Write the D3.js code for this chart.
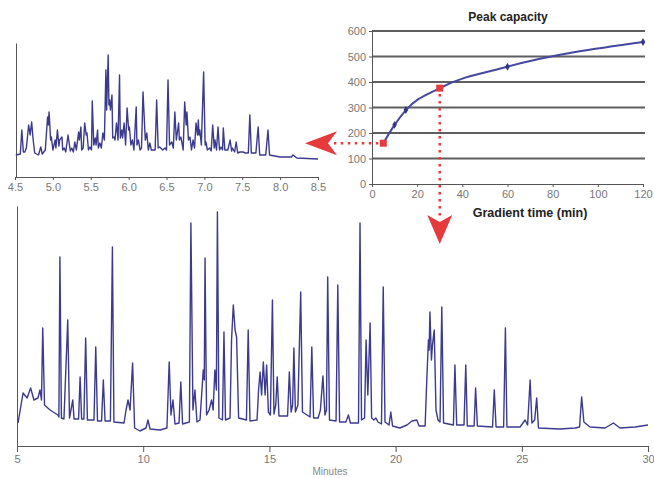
<!DOCTYPE html>
<html>
<head>
<meta charset="utf-8">
<script src="https://cdn.jsdelivr.net/npm/d3@7"></script>
<style>
  body { margin: 0; background: #fff; }
  text { font-family: "Liberation Sans Narrow", "Liberation Sans", Arial, sans-serif; }
  .tick text { fill: #777; font-size: 11px; }
</style>
</head>
<body>
<div id="chart-area"></div>
<script>
// peak capacity vs gradient time
var capTimes  = [5, 10, 15, 30, 60, 120];
var capValues = [160, 232, 290, 376, 460, 557];
var capMarked = [5, 30];               // red points used for the two zooms
var capTicksX = [0, 20, 40, 60, 80, 100, 120];
var capTicksY = [0, 100, 200, 300, 400, 500, 600];

// short gradient (5 min) chromatogram, minutes / response
var insetTime = [4.51, 4.57, 4.59, 4.61, 4.63, 4.65, 4.68, 4.70, 4.72, 4.74, 4.76, 4.81, 4.84, 4.86, 4.87,
  4.90, 4.93, 4.94, 4.95, 4.97, 4.98, 5.00, 5.03, 5.04, 5.06, 5.08, 5.09, 5.12, 5.13, 5.15, 5.17, 5.20,
  5.23, 5.25, 5.27, 5.29, 5.31, 5.34, 5.35, 5.37, 5.38, 5.40, 5.42, 5.44, 5.45, 5.47, 5.49, 5.51, 5.52,
  5.54, 5.56, 5.57, 5.59, 5.60, 5.62, 5.64, 5.66, 5.68, 5.70, 5.71, 5.73, 5.74, 5.75, 5.76, 5.78, 5.79,
  5.81, 5.82, 5.84, 5.86, 5.88, 5.89, 5.91, 5.92, 5.94, 5.96, 5.98, 6.00, 6.01, 6.03, 6.05, 6.07, 6.10,
  6.11, 6.13, 6.15, 6.17, 6.19, 6.22, 6.24, 6.26, 6.28, 6.30, 6.35, 6.37, 6.39, 6.41, 6.45, 6.48, 6.50,
  6.52, 6.54, 6.57, 6.59, 6.61, 6.63, 6.66, 6.67, 6.69, 6.72, 6.74, 6.76, 6.77, 6.79, 6.81, 6.83, 6.85,
  6.87, 6.89, 6.91, 6.92, 6.93, 6.94, 6.96, 6.99, 7.01, 7.02, 7.04, 7.07, 7.09, 7.11, 7.13, 7.14, 7.16,
  7.18, 7.20, 7.22, 7.24, 7.25, 7.27, 7.29, 7.31, 7.34, 7.36, 7.37, 7.40, 7.42, 7.44, 7.47, 7.51, 7.54,
  7.58, 7.60, 7.62, 7.68, 7.71, 7.73, 7.81, 7.84, 7.86, 8.00, 8.15, 8.17, 8.22, 8.50];
var insetSignal = [22, 23, 47, 25, 25, 29, 52, 42, 55, 37, 24, 22, 30, 23, 24,
  27, 60, 52, 65, 37, 40, 27, 37, 29, 47, 31, 37, 40, 27, 29, 25, 42,
  26, 29, 25, 35, 27, 45, 37, 50, 27, 29, 54, 42, 44, 27, 30, 27, 76,
  32, 39, 32, 47, 29, 34, 29, 44, 37, 107, 67, 122, 72, 77, 67, 82, 39,
  40, 37, 54, 37, 102, 39, 47, 39, 54, 32, 69, 47, 50, 32, 37, 27, 70,
  32, 37, 27, 29, 85, 37, 44, 27, 34, 27, 27, 77, 29, 30, 27, 29, 27,
  97, 32, 35, 29, 65, 37, 54, 37, 40, 27, 75, 52, 65, 37, 40, 27, 37,
  29, 54, 42, 57, 42, 47, 32, 105, 32, 35, 27, 29, 26, 52, 29, 37, 27,
  50, 27, 30, 27, 49, 27, 27, 27, 37, 26, 29, 25, 35, 24, 25, 25, 24,
  24, 62, 24, 24, 50, 22, 22, 47, 22, 20, 20, 22, 19, 18];

// long gradient (30 min) chromatogram, minutes / response
var mainTime = [5.04, 5.24, 5.40, 5.54, 5.67, 5.83, 5.91, 5.97, 6.02, 6.09, 6.31, 6.62, 6.66, 6.70, 6.76,
  6.86, 7.01, 7.08, 7.21, 7.26, 7.44, 7.50, 7.56, 7.65, 7.72, 7.79, 8.05, 8.12, 8.19, 8.35, 8.42, 8.49,
  8.70, 8.78, 8.84, 9.24, 9.32, 9.40, 9.48, 9.58, 9.66, 9.87, 10.11, 10.19, 10.27, 10.67, 10.94, 11.03,
  11.10, 11.18, 11.26, 11.42, 11.49, 11.56, 11.83, 11.89, 11.97, 12.05, 12.13, 12.25, 12.38, 12.42,
  12.45, 12.51, 12.61, 12.71, 12.77, 12.84, 12.90, 12.94, 13.00, 13.14, 13.20, 13.26, 13.44, 13.50,
  13.57, 13.64, 13.70, 13.78, 14.09, 14.16, 14.23, 14.51, 14.57, 14.63, 14.69, 14.76, 14.83, 14.89,
  14.96, 15.04, 15.12, 15.18, 15.25, 15.31, 15.38, 15.72, 15.79, 15.86, 15.92, 15.97, 16.03, 16.13,
  16.24, 16.31, 16.61, 16.68, 16.75, 16.93, 17.02, 17.12, 17.20, 17.26, 17.31, 17.38, 17.64, 17.71,
  17.78, 18.03, 18.13, 18.21, 18.53, 18.59, 18.65, 18.77, 18.83, 18.90, 18.99, 19.05, 19.14, 19.22,
  19.30, 19.44, 19.51, 19.58, 19.74, 19.81, 19.88, 20.17, 20.45, 20.65, 20.84, 20.93, 21.17, 21.22,
  21.30, 21.33, 21.36, 21.42, 21.46, 21.53, 21.60, 21.68, 21.76, 21.83, 21.90, 22.29, 22.35, 22.42,
  22.71, 22.78, 22.84, 23.11, 23.17, 23.24, 23.84, 23.91, 23.98, 24.28, 24.35, 24.41, 24.93, 25.13,
  25.23, 25.33, 25.40, 25.51, 25.59, 25.66, 26.51, 27.11, 27.29, 27.37, 27.46, 27.70, 28.30, 28.63,
  28.89, 29.49, 30.00];
var mainSignal = [23, 53, 48, 58, 46, 48, 56, 46, 118, 41, 36, 31, 29, 189, 28,
  27, 126, 28, 46, 27, 27, 69, 27, 27, 108, 26, 26, 99, 25, 25, 66, 25,
  25, 199, 24, 23, 36, 46, 36, 83, 18, 15, 18, 26, 17, 16, 18, 84,
  31, 46, 22, 23, 64, 22, 24, 223, 36, 56, 24, 26, 76, 66,
  188, 31, 36, 46, 36, 76, 56, 234, 28, 26, 114, 26, 28, 106,
  141, 116, 109, 28, 26, 116, 25, 26, 56, 74, 51, 84, 51, 81,
  34, 31, 146, 32, 41, 69, 30, 30, 74, 34, 41, 98, 34, 41,
  154, 34, 29, 99, 28, 28, 36, 70, 31, 36, 169, 26, 25, 161,
  24, 24, 31, 23, 23, 223, 26, 28, 106, 51, 123, 28, 26, 28,
  24, 22, 159, 24, 21, 34, 20, 18, 21, 25, 26, 20, 20, 56,
  106, 96, 134, 86, 101, 116, 36, 26, 24, 139, 23, 21, 81, 21,
  21, 81, 20, 20, 58, 20, 19, 56, 19, 19, 118, 19, 19, 26,
  21, 66, 23, 26, 48, 18, 17, 18, 19, 49, 24, 19, 18, 23,
  18, 19, 21];

var insetTicks = [4.5, 5.0, 5.5, 6.0, 6.5, 7.0, 7.5, 8.0, 8.5];
var mainTicks  = [5, 10, 15, 20, 25, 30];

var traceColor = "#3b3a8e";
var red = "#e63b3c";

var svg = d3.select("#chart-area")
            .append("svg")
            .attr("width", 654)
            .attr("height", 478);

// ---------- bottom chromatogram ----------
var mainX = d3.scaleLinear().domain([5, 30]).range([17, 648]);
var mainY = d3.scaleLinear().domain([0, 240]).range([446, 206]);

svg.append("g")
   .attr("transform", "translate(0,446)")
   .call(d3.axisBottom(mainX).tickValues(mainTicks).tickSize(6).tickSizeOuter(0).tickPadding(3)
           .tickFormat(d3.format("d")));
svg.append("g")
   .attr("transform", "translate(17,0)")
   .call(d3.axisLeft(mainY).tickValues([]).tickSizeOuter(0));

svg.append("path")
   .datum(d3.range(mainTime.length))
   .attr("fill", "none")
   .attr("stroke", traceColor)
   .attr("stroke-width", 1.4)
   .attr("stroke-linejoin", "round")
   .attr("d", d3.line()
                .x(function(i) { return mainX(mainTime[i]); })
                .y(function(i) { return mainY(mainSignal[i]); }));

svg.append("text")
   .attr("x", 330)
   .attr("y", 475)
   .attr("text-anchor", "middle")
   .attr("font-size", 10)
   .attr("fill", "#888")
   .text("Minutes");

// ---------- top-left zoom chromatogram ----------
var insetX = d3.scaleLinear().domain([4.5, 8.5]).range([15, 318]);
var insetY = d3.scaleLinear().domain([0, 134]).range([177, 43]);

svg.append("g")
   .attr("transform", "translate(0,177)")
   .call(d3.axisBottom(insetX).tickValues(insetTicks).tickSize(3).tickSizeOuter(0).tickPadding(3)
           .tickFormat(d3.format(".1f")));
svg.append("g")
   .attr("transform", "translate(16,0)")
   .call(d3.axisLeft(insetY).tickValues([]).tickSizeOuter(0));

svg.append("path")
   .datum(d3.range(insetTime.length))
   .attr("fill", "none")
   .attr("stroke", traceColor)
   .attr("stroke-width", 1.4)
   .attr("stroke-linejoin", "round")
   .attr("d", d3.line()
                .x(function(i) { return insetX(insetTime[i]); })
                .y(function(i) { return insetY(insetSignal[i]); }));

// ---------- peak capacity plot ----------
var capX = d3.scaleLinear().domain([0, 120]).range([372, 643]);
var capY = d3.scaleLinear().domain([0, 600]).range([184, 31]);

svg.append("g")
   .selectAll("line")
   .data(capTicksY.slice(1))
   .enter().append("line")
   .attr("x1", capX(0))
   .attr("x2", capX(120) + 2)
   .attr("y1", function(d) { return capY(d); })
   .attr("y2", function(d) { return capY(d); })
   .attr("stroke", "#5e5e5e")
   .attr("stroke-width", 1.8);

svg.append("g")
   .attr("transform", "translate(0,184)")
   .call(d3.axisBottom(capX).tickValues(capTicksX).tickSize(3).tickSizeOuter(0).tickPadding(3));
svg.append("g")
   .attr("transform", "translate(372,0)")
   .call(d3.axisLeft(capY).tickValues(capTicksY).tickSize(3).tickSizeOuter(0).tickPadding(3));

svg.selectAll(".domain").attr("stroke", "#555");
svg.selectAll(".tick line").attr("stroke", "#555");

svg.append("path")
   .datum(d3.range(capTimes.length))
   .attr("fill", "none")
   .attr("stroke", "#4448a0")
   .attr("stroke-width", 2)
   .attr("d", d3.line()
                .curve(d3.curveMonotoneX)
                .x(function(i) { return capX(capTimes[i]); })
                .y(function(i) { return capY(capValues[i]); }));

svg.append("g")
   .selectAll("path")
   .data(d3.range(capTimes.length).filter(function(i) { return capMarked.indexOf(capTimes[i]) < 0; }))
   .enter().append("path")
   .attr("d", d3.symbol().type(d3.symbolDiamond).size(18))
   .attr("transform", function(i) { return "translate(" + capX(capTimes[i]) + "," + capY(capValues[i]) + ")"; })
   .attr("fill", "#33378a");

// dotted arrows from the two highlighted points
var p1 = capTimes.indexOf(capMarked[0]), p2 = capTimes.indexOf(capMarked[1]);
var ax = capX(capTimes[p1]), ay = capY(capValues[p1]);
var bx = capX(capTimes[p2]), by = capY(capValues[p2]);

svg.append("line")
   .attr("x1", ax - 5).attr("y1", ay)
   .attr("x2", 334).attr("y2", ay)
   .attr("stroke", red).attr("stroke-width", 2.5)
   .attr("stroke-dasharray", "2.5,4.5");
svg.append("path")
   .attr("d", "M305," + ay + "L337," + (ay - 12) + "L328," + ay + "L337," + (ay + 12) + "Z")
   .attr("fill", red);

svg.append("line")
   .attr("x1", bx).attr("y1", by + 6)
   .attr("x2", bx).attr("y2", 218)
   .attr("stroke", red).attr("stroke-width", 2.5)
   .attr("stroke-dasharray", "2.5,4.5");
svg.append("path")
   .attr("d", "M" + (bx - 12.5) + ",215L" + bx + ",222L" + (bx + 12.5) + ",215L" + bx + ",244Z")
   .attr("fill", red);

svg.append("g")
   .selectAll("rect")
   .data([p1, p2])
   .enter().append("rect")
   .attr("x", function(i) { return capX(capTimes[i]) - 3.5; })
   .attr("y", function(i) { return capY(capValues[i]) - 3.5; })
   .attr("width", 7)
   .attr("height", 7)
   .attr("fill", red);

svg.append("text")
   .attr("x", 508)
   .attr("y", 21)
   .attr("text-anchor", "middle")
   .attr("font-size", 12)
   .attr("font-weight", "bold")
   .attr("fill", "#222")
   .text("Peak capacity");

svg.append("text")
   .attr("x", 530)
   .attr("y", 217)
   .attr("text-anchor", "middle")
   .attr("font-size", 12.5)
   .attr("font-weight", "bold")
   .attr("fill", "#222")
   .text("Gradient time (min)");
</script>
</body>
</html>
